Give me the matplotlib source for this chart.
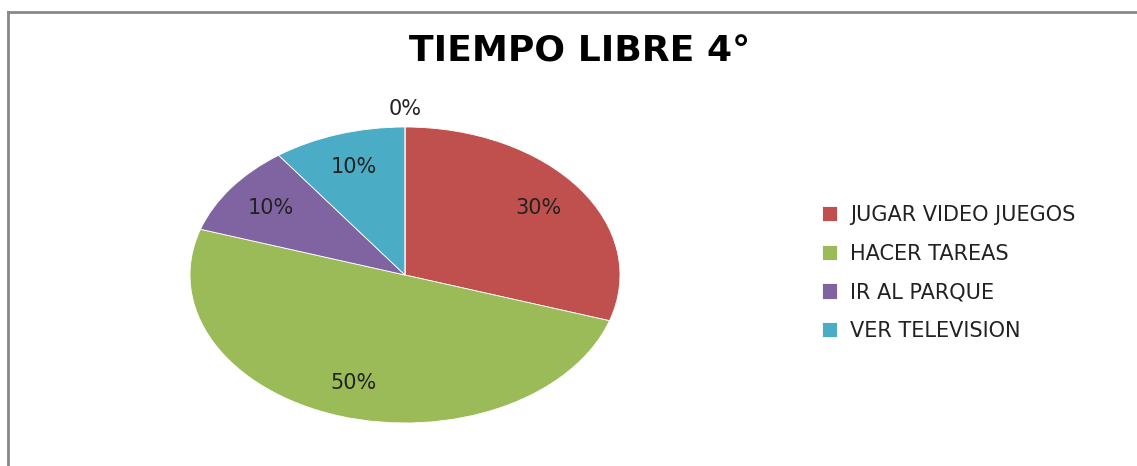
import matplotlib.pyplot as plt
from matplotlib.lines import Line2D

labels = ['JUGAR VIDEO JUEGOS', 'HACER TAREAS', 'IR AL PARQUE', 'VER TELEVISION', '']
values = [30, 50, 10, 10, 0]
colors = ['#C0504D', '#9BBB59', '#8064A2', '#4BACC6', '#F79646']

plt.rcParams['font.family'] = ['DejaVu Sans']

fig = plt.figure(figsize=(11.37, 4.66), dpi=100)
W, H = 1137, 466

# marco gris (solo izquierda y arriba se ven)
fig.add_artist(Line2D([7.5 / W, 7.5 / W], [0, 1 - 12 / H], color='#888888', lw=2))
fig.add_artist(Line2D([7.5 / W, 1], [1 - 12 / H, 1 - 12 / H], color='#888888', lw=2))

ax = fig.add_axes([190 / W, 43 / H, 430 / W, 296 / H])
wedges, texts, pcts = ax.pie(values, colors=colors, startangle=90, counterclock=False,
                             autopct='%1.0f%%', pctdistance=0.77,
                             wedgeprops=dict(edgecolor='white', linewidth=0.6),
                             textprops=dict(fontsize=15, color='#222222'))
ax.set_aspect('auto')
ax.set_xlim(-1, 1)
ax.set_ylim(-1, 1)
ax.axis('off')
pcts[-1].set_position((0, 1.12))

fig.text(580 / W, 1 - 51 / H, 'TIEMPO LIBRE 4°', ha='center', va='center',
         fontsize=26, fontweight='bold')

fig.legend(wedges[:4], labels[:4], loc='upper left', bbox_to_anchor=(803 / W, 1 - 186 / H),
           frameon=False, fontsize=15, handlelength=0.75, handleheight=0.75,
           handletextpad=0.6, labelspacing=0.9, labelcolor='#222222')

fig.savefig('out.png', dpi=100)
